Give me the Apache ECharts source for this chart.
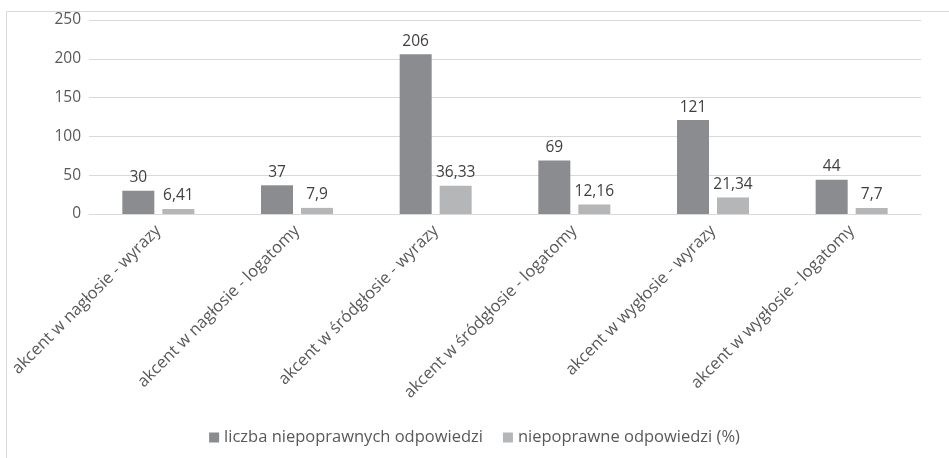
<!DOCTYPE html>
<html>
<head>
<meta charset="utf-8">
<script src="https://cdn.jsdelivr.net/npm/echarts@6/dist/echarts.min.js"></script>
<style>
  html, body { margin: 0; padding: 0; background: #ffffff; }
  #chart { width: 949px; height: 458px; }
</style>
</head>
<body>
<div id="chart"></div>
<script>
const categories = [
  'akcent w nagłosie - wyrazy',
  'akcent w nagłosie - logatomy',
  'akcent w śródgłosie - wyrazy',
  'akcent w śródgłosie - logatomy',
  'akcent w wygłosie - wyrazy',
  'akcent w wygłosie - logatomy'
];
const countName = 'liczba niepoprawnych odpowiedzi';
const percentName = 'niepoprawne odpowiedzi (%)';
const countValues = [30, 37, 206, 69, 121, 44];
const percentValues = [6.41, 7.9, 36.33, 12.16, 21.34, 7.7];

const FONT = '"Open Sans", sans-serif';
const fmtComma = v => String(v).replace('.', ',');

const chart = echarts.init(document.getElementById('chart'), null, { renderer: 'canvas' });

const valueLabel = {
  show: true,
  position: 'top',
  distance: 5,
  color: '#404040',
  fontSize: 15.5,
  fontFamily: FONT,
  formatter: p => fmtComma(p.value)
};

chart.setOption({
  animation: false,
  textStyle: { fontFamily: FONT },
  graphic: [{
    type: 'rect',
    shape: { x: 6.5, y: 11.5, width: 1000, height: 500 },
    style: { fill: 'none', stroke: '#d9d9d9', lineWidth: 1 },
    silent: true,
    z: -1
  }],
  grid: { left: 89, right: 28, top: 20, bottom: 244, containLabel: false },
  legend: {
    bottom: 7,
    left: 'center',
    itemWidth: 10,
    itemHeight: 10,
    itemGap: 20,
    icon: 'rect',
    textStyle: { color: '#595959', fontSize: 16.5, fontFamily: FONT },
    data: [countName, percentName]
  },
  xAxis: {
    type: 'category',
    data: categories,
    axisLine: { lineStyle: { color: '#d9d9d9', width: 1 } },
    axisTick: { show: false },
    axisLabel: {
      rotate: 45,
      interval: 0,
      color: '#595959',
      fontSize: 16.5,
      fontFamily: FONT,
      margin: 14
    }
  },
  yAxis: {
    type: 'value',
    min: 0,
    max: 250,
    interval: 50,
    axisLine: { show: false },
    axisTick: { show: false },
    splitLine: { lineStyle: { color: '#d9d9d9', width: 1 } },
    axisLabel: { color: '#595959', fontSize: 15.5, fontFamily: FONT, margin: 8 }
  },
  series: [
    {
      name: countName,
      type: 'bar',
      data: countValues,
      barWidth: 32,
      barGap: '25%',
      itemStyle: { color: '#8b8c90' },
      label: valueLabel
    },
    {
      name: percentName,
      type: 'bar',
      data: percentValues,
      barWidth: 32,
      barGap: '25%',
      itemStyle: { color: '#b4b6b8' },
      label: valueLabel
    }
  ]
});
</script>
</body>
</html>
